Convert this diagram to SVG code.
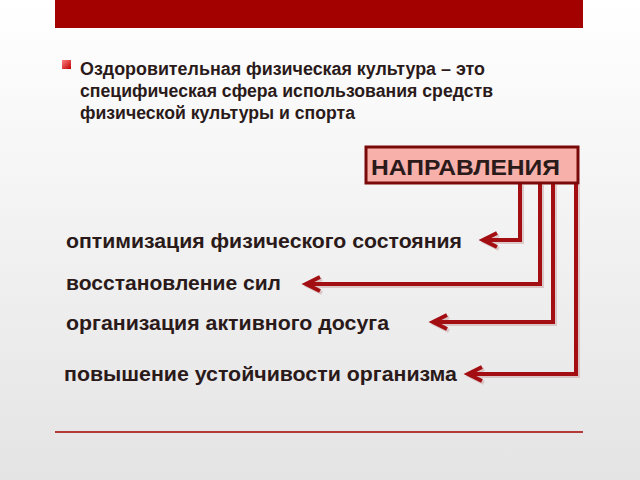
<svg xmlns="http://www.w3.org/2000/svg" width="640" height="480" viewBox="0 0 640 480">
<defs>
<linearGradient id="bg" x1="0" y1="0" x2="0" y2="1"><stop offset="0" stop-color="#ffffff"/><stop offset="1" stop-color="#e4e4e4"/></linearGradient>
<linearGradient id="bul" x1="0" y1="0" x2="1" y2="1"><stop offset="0" stop-color="#ff8080"/><stop offset="1" stop-color="#c00000"/></linearGradient>
</defs>
<style>
.t{font-family:"Liberation Sans",Arial,sans-serif;font-weight:bold;fill:#2a1a1a}
.c{fill:none;stroke:#a30e12;stroke-width:4;stroke-linejoin:miter}
.s{fill:none;stroke:#c8a0a0;stroke-width:4;opacity:.5}
</style>
<rect width="640" height="480" fill="url(#bg)"/>
<rect x="55" y="0" width="528" height="28" fill="#a30000"/>
<line x1="55" y1="432" x2="583" y2="432" stroke="#a30000" stroke-width="1.5"/>
<rect x="62" y="60" width="9" height="9" fill="url(#bul)"/>
<text class="t" font-size="17.5"><tspan x="80" y="75" textLength="405" lengthAdjust="spacingAndGlyphs">Оздоровительная физическая культура – это</tspan><tspan x="80" y="97" textLength="413" lengthAdjust="spacingAndGlyphs">специфическая сфера использования средств</tspan><tspan x="80" y="119" textLength="275" lengthAdjust="spacingAndGlyphs">физической культуры и спорта</tspan></text>
<g id="connectors">
<g transform="translate(2,2)">
<path class="s" d="M520 183V240H487M497 233L483 240L497 247"/>
<path class="s" d="M540 183V284H310M320 277L306 284L320 291"/>
<path class="s" d="M553 183V322H437M447 315L433 322L447 329"/>
<path class="s" d="M576 183V374H472M482 367L468 374L482 381"/>
</g>
<path class="c" d="M520 183V240H487M497 233L483 240L497 247"/>
<path class="c" d="M540 183V284H310M320 277L306 284L320 291"/>
<path class="c" d="M553 183V322H437M447 315L433 322L447 329"/>
<path class="c" d="M576 183V374H472M482 367L468 374L482 381"/>
</g>
<g id="node-header">
<rect x="366" y="147" width="212" height="36" fill="#f7b0aa" stroke="#7a0a0a" stroke-width="3"/>
<text class="t" x="371" y="175" font-size="22" fill="#2a1010" textLength="189" lengthAdjust="spacingAndGlyphs">НАПРАВЛЕНИЯ</text>
</g>
<g id="n1"><text class="t" x="66" y="248" font-size="20" textLength="396" lengthAdjust="spacingAndGlyphs">оптимизация физического состояния</text></g>
<g id="n2"><text class="t" x="66" y="290" font-size="20" textLength="215" lengthAdjust="spacingAndGlyphs">восстановление сил</text></g>
<g id="n3"><text class="t" x="66" y="330" font-size="20" textLength="323" lengthAdjust="spacingAndGlyphs">организация активного досуга</text></g>
<g id="n4"><text class="t" x="64" y="381" font-size="20" textLength="393" lengthAdjust="spacingAndGlyphs">повышение устойчивости организма</text></g>
</svg>
